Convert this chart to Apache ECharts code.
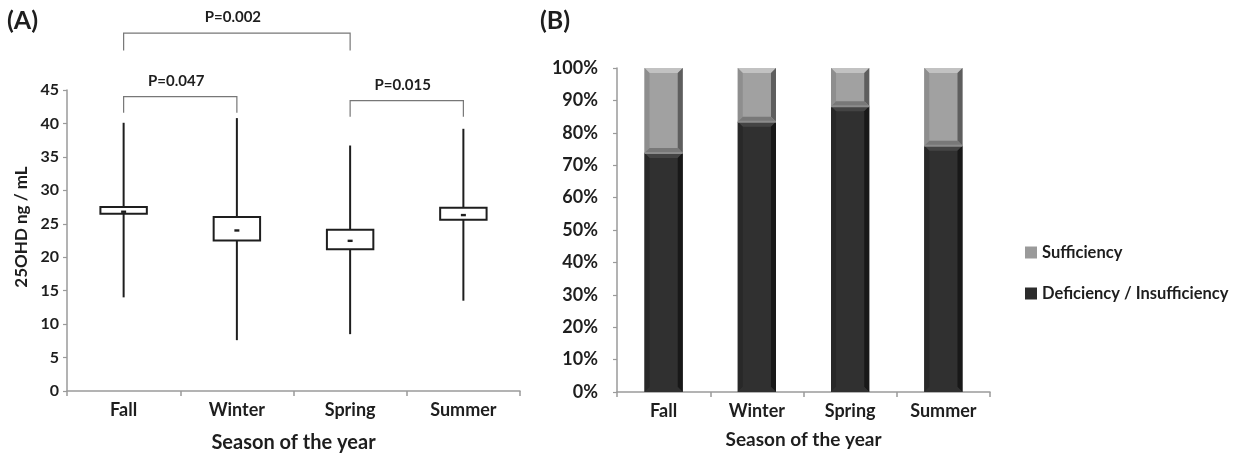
<!DOCTYPE html>
<html>
<head>
<meta charset="utf-8">
<script src="https://cdn.jsdelivr.net/npm/echarts@6/dist/echarts.min.js"></script>
<style>
  html, body { margin: 0; padding: 0; background: #fff; }
  #chart { width: 1237px; height: 458px; }
</style>
</head>
<body>
<div id="chart"></div>
<script>
// Seasons shared by both panels
const seasons = ['Fall', 'Winter', 'Spring', 'Summer'];

// Panel A: 25OHD distribution per season (ng/mL)
const whiskerMin = [14.0, 7.6, 8.5, 13.5];
const boxLow     = [26.5, 22.5, 21.2, 25.6];
const boxHigh    = [27.5, 26.0, 24.1, 27.4];
const whiskerMax = [40.1, 40.8, 36.7, 39.2];
const seasonMean = [26.8, 24.0, 22.45, 26.3];

// Panel A: pairwise comparisons (season indices, p-value text, bracket level and foot in ng/mL)
const compFrom   = [0, 0, 2];
const compTo     = [2, 1, 3];
const compLabel  = ['P=0.002', 'P=0.047', 'P=0.015'];
const compTop    = [53.5, 44.0, 43.4];
const compFoot   = [50.9, 41.6, 41.0];

// Panel A axis ticks
const concTicks = { min: 0, max: 45, step: 5 };

// Panel B: vitamin D status share per season (%)
const deficiency  = [73.8, 83.4, 88.2, 76.0];
const sufficiency = [26.2, 16.6, 11.8, 24.0];
const pctTicks = { min: 0, max: 100, step: 10 };

const FONT = 'Lato, "Open Sans", sans-serif';
const INK = '#1e1e1e';
const AXIS_GRAY = '#9a9a9a';

const boxData = seasons.map((s, i) => [i, whiskerMin[i], boxLow[i], boxHigh[i], whiskerMax[i], seasonMean[i]]);
const compData = compLabel.map((t, i) => [compFrom[i], compTo[i], compTop[i], compFoot[i], t]);
// stacked segments: [category, base, top]
const defData = seasons.map((s, i) => [i, 0, deficiency[i]]);
const sufData = seasons.map((s, i) => [i, deficiency[i], deficiency[i] + sufficiency[i]]);

function renderBox(params, api) {
  const x = api.value(0);
  const pMin = api.coord([x, api.value(1)]);
  const pLow = api.coord([x, api.value(2)]);
  const pHigh = api.coord([x, api.value(3)]);
  const pMax = api.coord([x, api.value(4)]);
  const pMean = api.coord([x, api.value(5)]);
  const band = api.size([1, 0])[0];
  const w = band * 0.41;
  return {
    type: 'group',
    children: [
      { type: 'line', shape: { x1: pMin[0], y1: pMin[1], x2: pMax[0], y2: pMax[1] },
        style: { stroke: INK, lineWidth: 2 } },
      { type: 'rect', shape: { x: pHigh[0] - w / 2, y: pHigh[1], width: w, height: pLow[1] - pHigh[1] },
        style: { fill: '#fff', stroke: INK, lineWidth: 2 } },
      { type: 'rect', shape: { x: pMean[0] - 2.5, y: pMean[1] - 1.2, width: 5, height: 2.4 },
        style: { fill: INK } }
    ]
  };
}

function renderBracket(params, api) {
  const a = api.value(0), b = api.value(1);
  const top = api.value(2), foot = api.value(3);
  const pa = api.coord([a, top]);
  const pb = api.coord([b, top]);
  const fa = api.coord([a, foot]);
  const fb = api.coord([b, foot]);
  const lineStyle = { stroke: '#777', lineWidth: 1.2, fill: null };
  return {
    type: 'group',
    children: [
      { type: 'polyline', shape: { points: [[fa[0], fa[1]], [pa[0], pa[1]], [pb[0], pb[1]], [fb[0], fb[1]]] },
        style: lineStyle },
      { type: 'text', x: (pa[0] + pb[0]) / 2 - 4, y: pa[1] - 8,
        style: { text: api.value(4), fill: INK, font: 'bold 15px ' + FONT, align: 'center', verticalAlign: 'bottom' } }
    ]
  };
}

// Bevelled bar segment: flat face framed by four shaded edges
function makeBevelRenderer(shades, separator) {
  return function (params, api) {
    const c = api.value(0);
    const p0 = api.coord([c, api.value(1)]);
    const p1 = api.coord([c, api.value(2)]);
    const w = api.size([1, 0])[0] * 0.41;
    const x = p0[0] - w / 2, y = p1[1], h = p0[1] - p1[1];
    const b = Math.min(5, h / 2);
    const poly = (pts, fill) => ({ type: 'polygon', shape: { points: pts }, style: { fill: fill } });
    const children = [
      { type: 'rect', shape: { x: x, y: y, width: w, height: h }, style: { fill: shades.face } },
      poly([[x, y], [x + w, y], [x + w - b, y + b], [x + b, y + b]], shades.top),
      poly([[x, y], [x + b, y + b], [x + b, y + h - b], [x, y + h]], shades.left),
      poly([[x + w, y], [x + w - b, y + b], [x + w - b, y + h - b], [x + w, y + h]], shades.right),
      poly([[x, y + h], [x + b, y + h - b], [x + w - b, y + h - b], [x + w, y + h]], shades.bottom)
    ];
    if (separator) {
      children.push({ type: 'line', shape: { x1: x, y1: y + h, x2: x + w, y2: y + h },
        style: { stroke: separator, lineWidth: 2 } });
    }
    return { type: 'group', children: children };
  };
}

const chart = echarts.init(document.getElementById('chart'), null, { renderer: 'canvas' });

const catAxisCommon = {
  type: 'category',
  data: seasons,
  boundaryGap: true,
  axisLine: { lineStyle: { color: AXIS_GRAY, width: 1.5 } },
  axisTick: { show: true, interval: 0, length: 5, lineStyle: { color: AXIS_GRAY, width: 1.5 } },
  axisLabel: { color: INK, fontFamily: FONT, fontWeight: 'bold', fontSize: 18, margin: 10, interval: 0 },
  nameLocation: 'middle',
  nameTextStyle: { color: INK, fontFamily: FONT, fontWeight: 'bold', fontSize: 19 },
  splitLine: { show: false }
};

const valAxisCommon = {
  type: 'value',
  axisLine: { show: true, lineStyle: { color: AXIS_GRAY, width: 1.5 } },
  axisTick: { show: true, length: 4, lineStyle: { color: AXIS_GRAY, width: 1.2 } },
  splitLine: { show: false }
};

chart.setOption({
  animation: false,
  backgroundColor: '#fff',
  grid: [
    { left: 67, top: 90, width: 453, height: 302 },
    { left: 617, top: 68, width: 373, height: 324 }
  ],
  xAxis: [
    Object.assign({}, catAxisCommon, { gridIndex: 0, name: 'Season of the year', nameGap: 42,
      nameTextStyle: { color: INK, fontFamily: FONT, fontWeight: 'bold', fontSize: 20 } }),
    Object.assign({}, catAxisCommon, { gridIndex: 1, name: 'Season of the year', nameGap: 38 })
  ],
  yAxis: [
    Object.assign({}, valAxisCommon, {
      gridIndex: 0, min: concTicks.min, max: concTicks.max, interval: concTicks.step,
      axisLabel: { color: INK, fontFamily: FONT, fontWeight: 'bold', fontSize: 16, margin: 8 }
    }),
    Object.assign({}, valAxisCommon, {
      gridIndex: 1, min: pctTicks.min, max: pctTicks.max, interval: pctTicks.step,
      axisLabel: { color: INK, fontFamily: FONT, fontWeight: 'bold', fontSize: 18, margin: 19, formatter: '{value}%' }
    })
  ],
  legend: {
    orient: 'vertical',
    left: 1020,
    top: 239,
    itemGap: 24,
    itemWidth: 12,
    itemHeight: 12,
    icon: 'rect',
    data: ['Sufficiency', 'Deficiency / Insufficiency'],
    textStyle: { color: INK, fontFamily: FONT, fontWeight: 'bold', fontSize: 16.5 }
  },
  graphic: [
    { type: 'text', left: 7, top: 8, style: { text: '(A)', fill: INK, font: 'bold 25px ' + FONT } },
    { type: 'text', left: 540, top: 8, style: { text: '(B)', fill: INK, font: 'bold 25px ' + FONT } },
    { type: 'text', x: 22, y: 227, rotation: Math.PI / 2,
      style: { text: '25OHD ng / mL', fill: INK, font: 'bold 17px ' + FONT, align: 'center', verticalAlign: 'middle' } }
  ],
  series: [
    {
      type: 'custom',
      name: 'Season distribution',
      xAxisIndex: 0, yAxisIndex: 0,
      renderItem: renderBox,
      encode: { x: 0, y: [1, 2, 3, 4, 5] },
      data: boxData,
      z: 3
    },
    {
      type: 'custom',
      name: 'Comparisons',
      xAxisIndex: 0, yAxisIndex: 0,
      clip: false,
      renderItem: renderBracket,
      encode: { x: [0, 1], y: [2, 3] },
      data: compData,
      z: 4
    },
    {
      type: 'custom',
      name: 'Deficiency / Insufficiency',
      xAxisIndex: 1, yAxisIndex: 1,
      itemStyle: { color: '#2c2c2c' },
      renderItem: makeBevelRenderer({ face: '#303030', top: '#444444', left: '#282828', right: '#181818', bottom: '#303030' }, null),
      encode: { x: 0, y: [1, 2] },
      data: defData
    },
    {
      type: 'custom',
      name: 'Sufficiency',
      xAxisIndex: 1, yAxisIndex: 1,
      itemStyle: { color: '#9a9a9a' },
      renderItem: makeBevelRenderer({ face: '#a1a1a1', top: '#c2c2c2', left: '#8e8e8e', right: '#5e5e5e', bottom: '#787878' }, '#8c8c8c'),
      encode: { x: 0, y: [1, 2] },
      data: sufData
    }
  ]
});
</script>
</body>
</html>
